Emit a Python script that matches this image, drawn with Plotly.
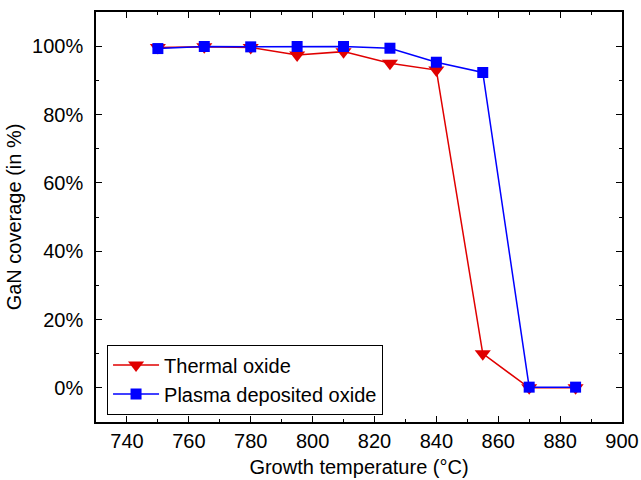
import plotly.graph_objects as go

temps = [750, 765, 780, 795, 810, 825, 840, 855, 870, 885]
thermal = [99.6, 99.8, 99.6, 97.4, 98.4, 95.0, 93.0, 10.0, 0.0, 0.0]
plasma = [99.3, 99.9, 99.8, 99.9, 99.9, 99.4, 95.3, 92.3, 0.2, 0.2]

red = "#e00000"
blue = "#0000ff"
font = "Liberation Sans, Arial, sans-serif"
fs = 20

fig = go.Figure()
fig.add_trace(go.Scatter(
    x=temps, y=thermal, name="Thermal oxide", mode="lines+markers",
    line=dict(color=red, width=1.5),
    marker=dict(symbol="triangle-down", size=14, color=red),
))
fig.add_trace(go.Scatter(
    x=temps, y=plasma, name="Plasma deposited oxide", mode="lines+markers",
    line=dict(color=blue, width=1.5),
    marker=dict(symbol="square", size=11, color=blue),
))

axis_common = dict(
    showline=True, linecolor="black", linewidth=1.6, mirror="ticks",
    ticks="inside", ticklen=6, tickwidth=1.2, tickcolor="black",
    showgrid=False, zeroline=False, automargin=False,
    tickfont=dict(size=fs, color="black", family=font),
)

fig.update_xaxes(
    range=[730, 900], tick0=740, dtick=20,
    minor=dict(ticks="inside", dtick=10, ticklen=3, tickcolor="black", tickwidth=1.2),
    title=dict(text="Growth temperature (°C)", font=dict(size=fs, color="black", family=font), standoff=9),
    **axis_common,
)
fig.update_yaxes(
    range=[-10, 110], tick0=0, dtick=20, ticksuffix="%",
    minor=dict(ticks="inside", dtick=10, ticklen=3, tickcolor="black", tickwidth=1.2),
    title=dict(text="GaN coverage (in %)", font=dict(size=fs, color="black", family=font), standoff=5),
    ticklabelstandoff=7,
    **axis_common,
)

fig.update_layout(
    width=641, height=480,
    margin=dict(l=96, r=19, t=12, b=58),
    plot_bgcolor="white", paper_bgcolor="white",
    font=dict(family=font, color="black", size=fs),
    legend=dict(
        x=0.021, y=0.018, xanchor="left", yanchor="bottom",
        bordercolor="black", borderwidth=1, bgcolor="white",
        font=dict(size=fs, family=font), tracegroupgap=0, itemwidth=46,
    ),
)

fig.write_html("out.html")
